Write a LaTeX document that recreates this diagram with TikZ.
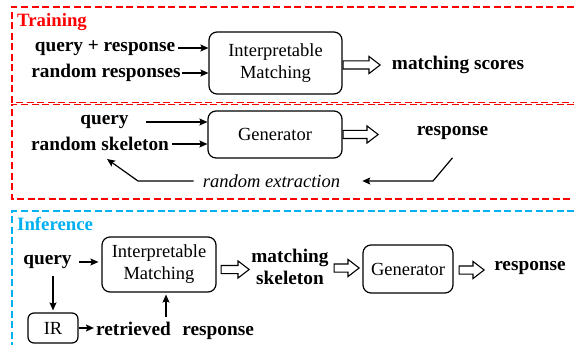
\documentclass[tikz,border=0pt]{standalone}
\usepackage{fontspec}
\setmainfont{Liberation Serif}
\newfontfamily\tnr{Liberation Serif}
\usetikzlibrary{arrows.meta,shapes.arrows,calc}
\definecolor{tred}{RGB}{255,0,0}
\definecolor{icyan}{RGB}{0,176,240}
\begin{document}
\begin{tikzpicture}[x=1pt,y=-1pt,
  every node/.style={font=\tnr\fontsize{18.5}{22}\selectfont, inner sep=1pt},
  lbl/.style={font=\tnr\fontsize{19.3}{22.5}\selectfont\bfseries},
  sec/.style={font=\tnr\fontsize{18.8}{22}\selectfont\bfseries, anchor=west},
  blk/.style={draw, rounded corners=8pt, line width=1.2pt, align=center},
  arr/.style={line width=1.2pt, -{Stealth[length=8pt,width=7pt,inset=1.5pt]}},
  harrow/.style={single arrow, draw, line width=1.1pt, fill=white, inner sep=0pt,
    inner ysep=3.5pt, minimum height=#1, single arrow head extend=4.5pt,
    single arrow tip angle=75, single arrow head indent=0pt, anchor=tail},
  frame/.style={dash pattern=on 7pt off 3.5pt, line width=1.2pt}]
\useasboundingbox (0,0) rectangle (574,345);
% frames (their right and lower sides lie outside the picture)
\draw[frame, tred] (574,7) -- (12,7) -- (12,102.5) -- (574,102.5);
\draw[frame, tred] (574,104.5) -- (12,104.5) -- (12,199) -- (574,199);
\draw[frame, icyan] (574,211) -- (12,211) -- (12,345);

% Training, part 1
\node[sec, text=tred] (trn) at (16,22) {Training};
\node[lbl] (qr) at (105,48) {query + response};
\node[lbl] (rr) at (106,73) {random responses};
\node[blk, minimum width=133pt, minimum height=62pt] (im1) at (275.5,63) {Interpretable\\Matching};
\node[harrow=37] (h1) at ($(im1.east)+(0,2)$) {};
\node[lbl] (ms) at (458,65) {matching scores};
\draw[arr] ([xshift=2pt]qr.east) -- (qr.east -| im1.west);
\draw[arr] ([xshift=0pt]rr.east) -- (rr.east -| im1.west);

% Training, part 2
\node[lbl] (q1) at (104.5,122) {query};
\node[lbl] (rs) at (100,144) {random skeleton};
\node[blk, minimum width=134pt, minimum height=47pt] (g1) at (275,134.5) {Generator};
\node[harrow=35] (h2) at (g1.east) {};
\node[lbl] (r1) at (452.5,133) {response};
\node[font=\tnr\fontsize{18.5}{22}\selectfont\itshape] (rx) at (271.5,181) {random extraction};
\draw[arr] ([xshift=16pt]q1.east) -- (q1.east -| g1.west);
\draw[arr] ([xshift=2pt]rs.east) -- (rs.east -| g1.west);
\coordinate (c1) at (433,181);
\coordinate (c2) at (138,181);
\draw[arr] ([yshift=-17pt]r1.south) -- (c1) -- ([xshift=21pt]rx.east);
\draw[arr] ([xshift=-8pt]rx.west) -- (c2) -- ([shift={(7pt,-7pt)}]rs.south);

% Inference
\node[sec, text=icyan] (inf) at (16,224) {Inference};
\node[lbl] (q2) at (47.5,262) {query};
\node[blk, minimum width=114pt, minimum height=55pt] (im2) at (159,264.5) {Interpretable\\Matching};
\draw[arr, shorten >=3pt] ([xshift=6pt]q2.east) -- (q2.east -| im2.west);
\node[harrow=28] (h3) at ([xshift=4pt,yshift=-5pt]im2.east) {};
\node[lbl, align=center] (mk) at (290,267) {matching\\skeleton};
\node[blk, minimum width=90pt, minimum height=48pt] (g2) at (408,269) {Generator};
\node[harrow=25] (h4) at ($(mk.east)!0.5!(g2.west)+(-12.5,0)$) {};
\node[harrow=25] (h5) at ([xshift=5pt,yshift=-1pt]g2.east) {};
\node[lbl] (r2) at (530,268) {response};
\node[blk, minimum width=50pt, minimum height=30pt, rounded corners=6pt] (ir) at (53,328) {IR};
\node[lbl] (rr2) at (175,331) {retrieved\hspace{0.6em}response};
\draw[arr, shorten <=6pt, shorten >=2pt] (ir.north |- q2.south) -- (ir.north);
\draw[arr, shorten >=1pt] (ir.east) -- (rr2.west |- ir.east);
\coordinate (up) at (166,317);
\draw[arr, shorten >=2pt] (up) -- (up |- im2.south);
\end{tikzpicture}
\end{document}
